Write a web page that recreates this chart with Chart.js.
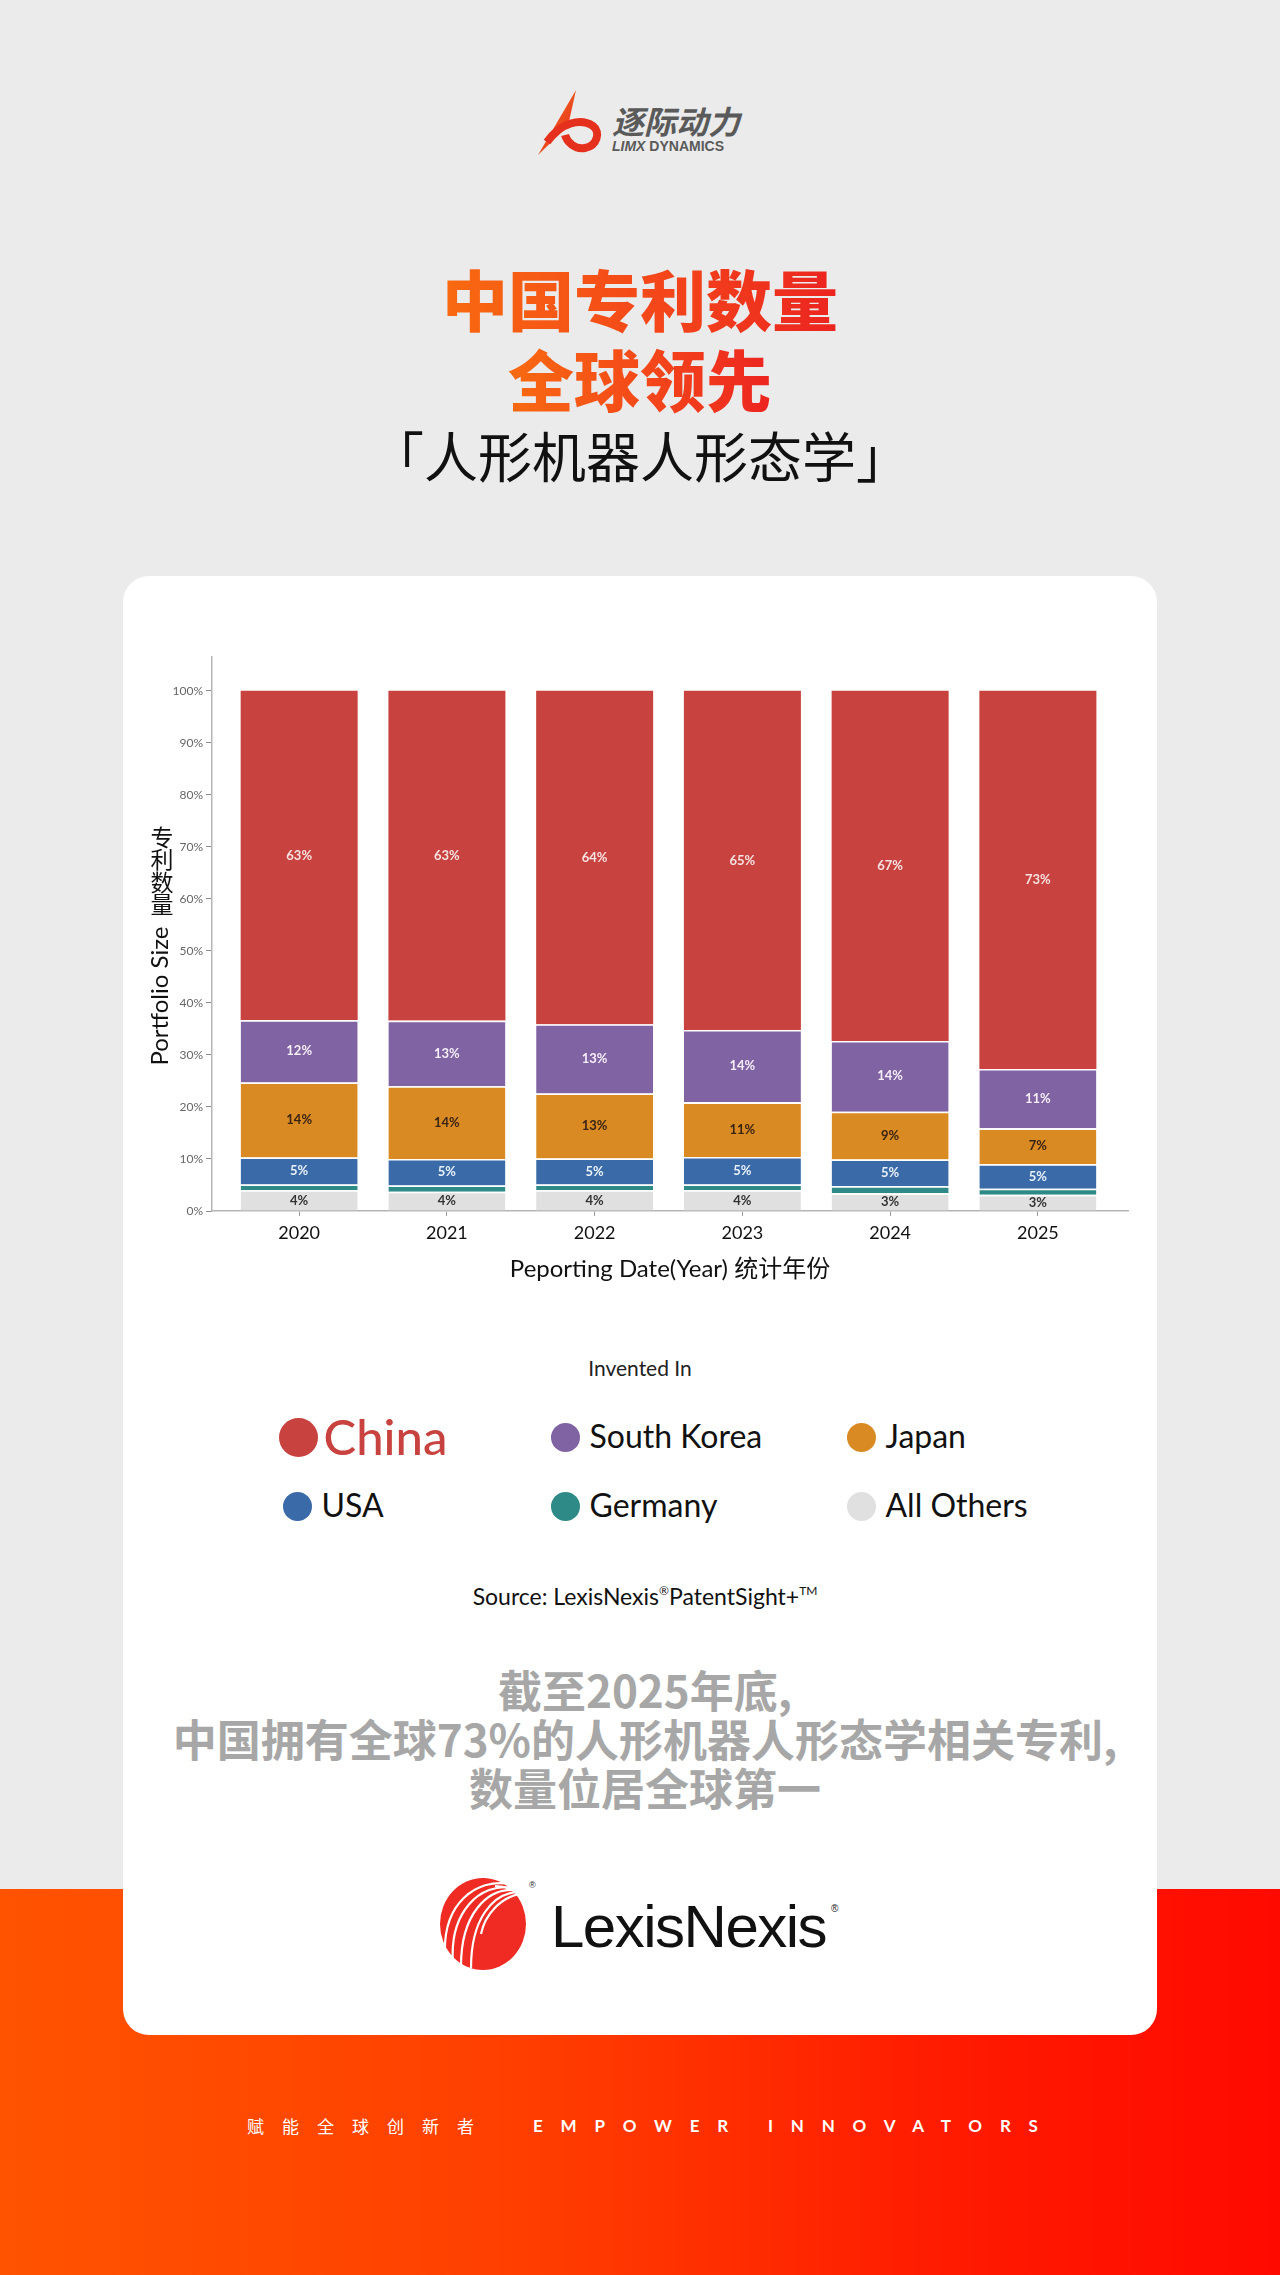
<!DOCTYPE html>
<html>
<head>
<meta charset="utf-8">
<script src="https://cdn.jsdelivr.net/npm/chart.js@4.4.1/dist/chart.umd.min.js"></script>
<style>
html,body{margin:0;padding:0;}
body{width:1280px;height:2275px;position:relative;overflow:hidden;background:#EBEBEB;font-family:Lato,"Noto Sans CJK SC",sans-serif;}
.band{position:absolute;left:0;top:1889px;width:1280px;height:386px;background:linear-gradient(90deg,#FF5300 0%,#FF3F00 40%,#FF1A00 75%,#FF0A00 100%);}
.card{position:absolute;left:123px;top:576px;width:1034px;height:1459px;background:#fff;border-radius:26px;}
.title{position:absolute;left:0;width:1280px;top:257px;text-align:center;font-family:"Noto Sans CJK SC",sans-serif;font-weight:900;font-size:66px;line-height:80px;}
.title span{background:linear-gradient(90deg,#F86A10 0%,#F4461A 55%,#EC2420 100%);-webkit-background-clip:text;background-clip:text;color:transparent;}
.subtitle{position:absolute;left:0;width:1280px;top:423px;text-align:center;font-family:"Noto Sans CJK SC",sans-serif;font-weight:400;font-size:54px;line-height:64px;color:#111;}
#chartBox{position:absolute;left:123px;top:600px;width:1034px;height:700px;}
.legendTitle{position:absolute;left:0;width:1280px;top:1355px;text-align:center;font-size:21px;line-height:26px;color:#222;}
.legItem{position:absolute;height:0;}
.legItem .dot{position:absolute;border-radius:50%;}
.legItem .txt{position:absolute;white-space:nowrap;color:#111;}
.source{position:absolute;left:0;width:1290px;top:1577px;text-align:center;font-size:23px;line-height:28px;color:#111;}
.source sup{font-size:12px;vertical-align:10px;}
.summary{position:absolute;left:0;width:1290px;top:1665px;text-align:center;font-family:"Noto Sans CJK SC",sans-serif;font-weight:700;font-size:44px;line-height:49px;color:#A7A7A7;}
.foot{position:absolute;top:2114px;color:#fff;font-size:17px;line-height:24px;white-space:nowrap;font-family:"Noto Sans CJK SC",sans-serif;}
</style>
</head>
<body>
<div class="band"></div>
<div class="card"></div>

<svg style="position:absolute;left:535px;top:88px" width="215" height="70" viewBox="0 0 215 70">
  <defs>
    <linearGradient id="lg1" x1="0" y1="0" x2="1" y2="1">
      <stop offset="0" stop-color="#F7761E"/><stop offset="1" stop-color="#E3261C"/>
    </linearGradient>
  </defs>
  <path d="M3,67 L41,2 L33,38 Z" fill="url(#lg1)"/>
  <path d="M12,54 C26,34 46,30 58,38 C66,44 62,58 50,60 C40,62 32,54 30,47" fill="none" stroke="#E5301E" stroke-width="8"/>
  <text x="77" y="46" font-family="Noto Sans CJK SC" font-weight="700" font-style="italic" font-size="32" fill="#5A5A5A">逐际动力</text>
  <text x="77" y="63" font-family="Liberation Sans" font-weight="700" font-size="14" fill="#5A5A5A"><tspan font-style="italic">LIMX</tspan> DYNAMICS</text>
</svg>

<div class="title"><span>中国专利数量</span><br><span>全球领先</span></div>
<div class="subtitle">「人形机器人形态学」</div>

<div id="chartBox"><canvas id="c" width="1034" height="700"></canvas></div>

<div class="legendTitle">Invented In</div>
<div id="legend"></div>
<div class="source">Source: LexisNexis<sup>®</sup>PatentSight+<sup>TM</sup></div>

<div class="summary">截至2025年底,<br>中国拥有全球73%的人形机器人形态学相关专利,<br>数量位居全球第一</div>

<svg style="position:absolute;left:435px;top:1874px" width="420" height="102" viewBox="0 0 420 102">
  <ellipse cx="48" cy="50" rx="43" ry="46" fill="#EF2B24"/>
  <g fill="none" stroke="#fff" stroke-width="2.2">
    <path d="M78,14 C45,8 14,38 18,90"/>
    <path d="M80,16 C52,14 26,40 26,92"/>
    <path d="M82,18 C58,20 36,44 36,94"/>
    <path d="M84,20 C66,24 50,40 46,60"/>
    <path d="M76,10 C40,4 8,30 10,80"/>
    <path d="M86,22 C78,14 70,12 60,12"/>
    <path d="M88,26 C84,18 80,14 74,12"/>
  </g>
  <text x="94" y="14" font-family="Liberation Sans" font-size="9" fill="#222">®</text>
  <text x="116" y="73" font-family="Liberation Sans" font-size="60" letter-spacing="-1.5" fill="#111">LexisNexis</text>
  <text x="396" y="38" font-family="Liberation Sans" font-size="10" fill="#222">®</text>
</svg>

<div class="foot" style="left:247px;letter-spacing:18px;">赋能全球创新者</div>
<div class="foot" style="left:533px;letter-spacing:17.8px;font-family:Lato,sans-serif;font-weight:700;">EMPOWER INNOVATORS</div>

<script>
// ---- data ----
const years = ['2020', '2021', '2022', '2023', '2024', '2025'];
const seriesNames = ['China', 'South Korea', 'Japan', 'USA', 'Germany', 'All Others'];
const seriesColors = ['#C8433F', '#7F63A2', '#D98A22', '#3A6BA8', '#2E8A86', '#E0E0E0'];
const china = [63.3, 63.4, 64.1, 65.2, 67.3, 72.7];
const southKorea = [12.0, 12.6, 13.3, 13.9, 13.6, 11.4];
const japan = [14.4, 14.0, 12.5, 10.5, 9.2, 6.9];
const usa = [5.2, 5.1, 5.0, 5.3, 5.1, 4.7];
const germany = [1.1, 1.2, 1.1, 1.1, 1.4, 1.2];
const allOthers = [4.0, 3.7, 4.0, 4.0, 3.4, 3.1];
const labelColors = ['#F6E2E2', '#F6EEF9', '#3A2412', '#EAF1FA', null, '#333333'];
const yAxisTitle = 'Portfolio Size';
const yAxisTitleZh = ['专', '利', '数', '量'];
const xAxisTitle = 'Peporting Date(Year) 统计年份';

const seriesValues = [china, southKorea, japan, usa, germany, allOthers];

// ---- legend (HTML) ----
const legendPos = [[298,1437],[565,1437],[861,1437],[297,1506],[565,1506],[861,1506]];
const legendEl = document.getElementById('legend');
seriesNames.forEach((n, i) => {
  const big = i === 0;
  const d = big ? 39 : 29;
  const fs = big ? 49 : 32;
  const [cx, cy] = legendPos[i];
  const item = document.createElement('div');
  item.className = 'legItem';
  item.style.left = cx + 'px';
  item.style.top = cy + 'px';
  item.innerHTML = `<div class="dot" style="width:${d}px;height:${d}px;left:${-d/2}px;top:${-d/2}px;background:${seriesColors[i]}"></div>` +
    `<div class="txt" style="left:${d/2 + (big?6:10)}px;top:${-fs*0.62}px;font-size:${fs}px;line-height:${fs*1.2}px;${big?'color:'+seriesColors[0]+';font-weight:500;':''}">${n}</div>`;
  legendEl.appendChild(item);
});

// ---- chart ----
const order = [5, 4, 3, 2, 1, 0]; // stack bottom -> top
const datasets = order.map(i => ({
  label: seriesNames[i],
  data: seriesValues[i],
  backgroundColor: seriesColors[i],
  borderColor: '#FFFFFF',
  borderWidth: i === 0 ? 0 : {top: 1.6, left: 0, right: 0, bottom: 0},
  borderSkipped: 'start',
  categoryPercentage: 0.88,
  barPercentage: 0.9,
  _idx: i
}));

const dataLabels = {
  id: 'dataLabels',
  afterDatasetsDraw(chart) {
    const ctx = chart.ctx;
    ctx.save();
    ctx.font = 'bold 13px Lato, sans-serif';
    ctx.textAlign = 'center';
    ctx.textBaseline = 'middle';
    chart.data.datasets.forEach((ds, di) => {
      const col = labelColors[ds._idx];
      if (!col) return;
      const meta = chart.getDatasetMeta(di);
      meta.data.forEach((bar, j) => {
        const v = ds.data[j];
        ctx.fillStyle = col;
        ctx.fillText(Math.round(v) + '%', bar.x, (bar.y + bar.base) / 2);
      });
    });
    ctx.restore();
  }
};

const yTitle = {
  id: 'yTitle',
  afterDraw(chart) {
    const ctx = chart.ctx;
    const a = chart.chartArea;
    const cx = 37;
    ctx.save();
    ctx.fillStyle = '#111';
    ctx.font = '24px Lato, sans-serif';
    ctx.textAlign = 'center';
    ctx.textBaseline = 'middle';
    const w = ctx.measureText(yAxisTitle).width;
    const midY = a.top + (a.bottom - a.top) * 0.612;
    ctx.translate(cx, midY);
    ctx.rotate(-Math.PI / 2);
    ctx.fillText(yAxisTitle, 0, 0);
    ctx.restore();
    ctx.save();
    ctx.fillStyle = '#111';
    ctx.font = '23px "Noto Sans CJK SC", sans-serif';
    ctx.textAlign = 'center';
    ctx.textBaseline = 'middle';
    let y = midY - w / 2 - 22;
    for (let k = yAxisTitleZh.length - 1; k >= 0; k--) {
      ctx.fillText(yAxisTitleZh[k], cx + 2, y);
      y -= 22.5;
    }
    ctx.restore();
  }
};

new Chart(document.getElementById('c'), {
  type: 'bar',
  data: { labels: years, datasets },
  options: {
    responsive: false,
    animation: false,
    devicePixelRatio: 1,
    layout: { padding: { left: 0, right: 29, top: 57, bottom: 0 } },
    plugins: { legend: { display: false }, tooltip: { enabled: false } },
    scales: {
      x: {
        type: 'linear',
        offset: false,
        stacked: true,
        min: 2019.41,
        max: 2025.61,
        afterFit(s) { s.height = 89; },
        grid: { offset: false, drawOnChartArea: false, drawTicks: true, tickLength: 5, color: '#9A9A9A' },
        border: { display: true, color: '#B5B5B5', width: 1.5 },
        ticks: {
          stepSize: 1, includeBounds: false, autoSkip: false, padding: 6,
          color: '#111', font: { size: 18, family: 'Lato' },
          callback: v => String(v)
        },
        title: { display: true, text: xAxisTitle, color: '#111', font: { size: 24, family: 'Lato, "Noto Sans CJK SC"' }, padding: { top: 0, bottom: 16 } }
      },
      y: {
        stacked: true,
        min: 0,
        max: 106.5,
        afterFit(s) { s.width = 89; },
        grid: { drawOnChartArea: false, drawTicks: true, tickLength: 6, color: '#8A8A8A' },
        border: { display: true, color: '#B5B5B5', width: 1.5 },
        ticks: {
          stepSize: 10, includeBounds: false, padding: 3,
          color: '#666', font: { size: 12, family: 'Lato' },
          callback: v => v + '%'
        }
      }
    }
  },
  plugins: [dataLabels, yTitle]
});
</script>
</body>
</html>
